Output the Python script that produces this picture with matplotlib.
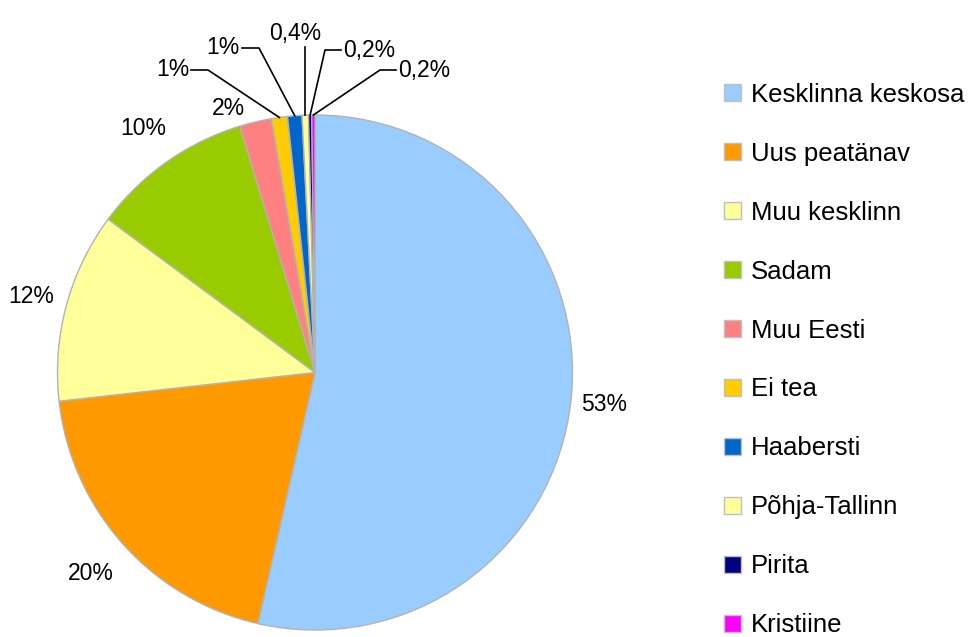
import matplotlib
matplotlib.use("Agg")
import matplotlib.pyplot as plt
import numpy as np

plt.rcParams['font.family'] = ['Liberation Sans', 'DejaVu Sans']

# data (share of answers, %)
categories = ["Kesklinna keskosa", "Uus peatänav", "Muu kesklinn", "Sadam",
              "Muu Eesti", "Ei tea", "Haabersti", "Põhja-Tallinn", "Pirita", "Kristiine"]
values = [53.4, 19.6, 11.9, 10.1, 2.0, 1.0, 0.9, 0.4, 0.2, 0.2]
colors = ["#99ccff", "#ff9900", "#ffff99", "#99cc00", "#ff8080",
          "#ffcc00", "#0066cc", "#ffff99", "#000080", "#ff00ff"]

W, H = 973, 637
CX, CY, R = 315, H - 372.5, 257.5
FS = 16.5
LEG_FS = 18.5

# label distance (in radii) for the big slices
label_dist = [1.13, 1.17, 1.14, 1.16, 1.055]
# leader layout for the small slices, pixel coords (elbow x, elbow y, line end x, text x, ha)
leaders = {
    5: (208, 70, 191, 189, "right"),
    6: (259, 48, 242, 240, "right"),
    7: (297, 47, 297, 295, "center"),
    8: (325, 50, 341, 343, "left"),
    9: (380, 70, 396, 398, "left"),
}


def fmt(v):
    if v >= 0.85:
        return "%d%%" % round(v)
    return ("%.1f%%" % v).replace(".", ",")


fig = plt.figure(figsize=(W / 100, H / 100), dpi=100)
ax = fig.add_axes([0, 0, 1, 1])

wedges, _ = ax.pie(
    values, colors=colors, startangle=90, counterclock=False,
    center=(CX, CY), radius=R,
    wedgeprops=dict(edgecolor="#b3b3b3", linewidth=1))

for i, w in enumerate(wedges):
    ang = np.deg2rad((w.theta1 + w.theta2) / 2)
    if i < len(label_dist):
        d = label_dist[i] * R
        tx, ty = CX + d * np.cos(ang), CY + d * np.sin(ang)
        ha = "center"
        if i == 4:
            ha = "right"
            tx -= 7
        ax.text(tx, ty, fmt(values[i]), ha=ha, va="center", fontsize=FS)
        continue
    ex, ey, lx, tx, ha = leaders[i]
    sx, sy = CX + R * np.cos(ang), CY + R * np.sin(ang)
    ey = H - ey
    if ha == "center":
        ax.plot([sx, sx], [sy, ey], color="black", lw=1.2)
        ax.text(tx, ey + 2, fmt(values[i]), ha="center", va="bottom", fontsize=FS)
    else:
        ax.plot([sx, ex, lx], [sy, ey, ey], color="black", lw=1.2)
        ax.text(tx, ey, fmt(values[i]), ha=ha, va="center", fontsize=FS)

ax.set_xlim(0, W)
ax.set_ylim(0, H)
ax.set_aspect("equal")
ax.axis("off")

leg = ax.legend(wedges, categories, loc="center left", bbox_to_anchor=(724, H - 360),
                bbox_transform=ax.transData, frameon=False, fontsize=LEG_FS,
                handlelength=0.66, handleheight=0.66, handletextpad=0.4,
                labelspacing=1.36, borderpad=0, borderaxespad=0)
for h in leg.legend_handles:
    h.set_edgecolor("#c0c0c0")

fig.savefig("out.png", dpi=100)
